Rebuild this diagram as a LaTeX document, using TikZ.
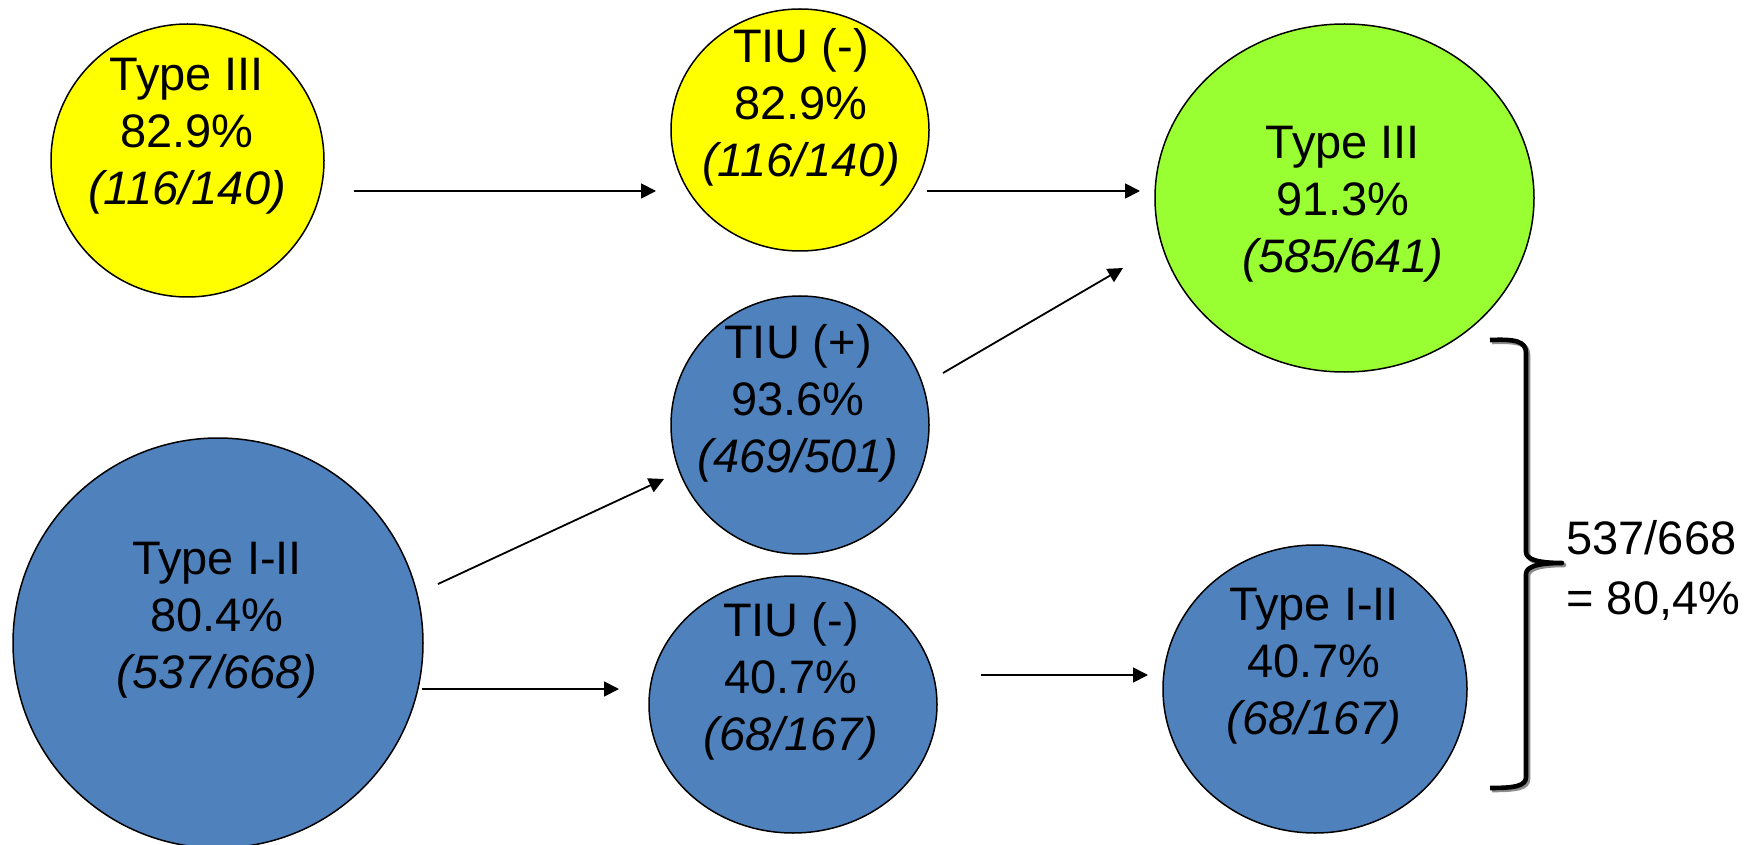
\documentclass[tikz,border=0pt]{standalone}
\usepackage{fontspec}
\setmainfont{Liberation Sans}
\usetikzlibrary{shapes.geometric,arrows.meta}
\definecolor{cyellow}{HTML}{FFFF00}
\definecolor{cgreen}{HTML}{99FF33}
\definecolor{cblue}{HTML}{4F81BD}
\definecolor{cshadow}{HTML}{8C8C8C}

\begin{document}
\begin{tikzpicture}[x=0.5pt,y=-0.5pt,
  bubble/.style={ellipse,draw=black,line width=0.75pt,inner sep=0pt},
  txt/.style={align=center,inner sep=0pt,font=\fontsize{23.5}{28.5}\selectfont},
  arr/.style={line width=0.9pt,-{Triangle[length=7.5pt,width=7.5pt]}},
  bracepath/.style={line width=2.3pt,line cap=butt,line join=round}]

\useasboundingbox (0,0) rectangle (1746,845);

% circles
\node[bubble,fill=cyellow,minimum width=136.5pt,minimum height=136.5pt] (A) at (187.5,160.5) {};
\node[bubble,fill=cyellow,minimum width=129pt,minimum height=121pt] (B) at (800,130) {};
\node[bubble,fill=cgreen,minimum width=189.5pt,minimum height=174pt] (C) at (1344.5,198) {};
\node[bubble,fill=cblue,minimum width=129pt,minimum height=129pt] (D) at (800,425) {};
\node[bubble,fill=cblue,minimum width=205pt,minimum height=205pt] (E) at (218,643) {};
\node[bubble,fill=cblue,minimum width=144pt,minimum height=128.5pt] (F) at (793,704.5) {};
\node[bubble,fill=cblue,minimum width=152pt,minimum height=144pt] (G) at (1315,689) {};

% labels
\node[txt] (tA) at (187,136.5) {Type III\\82.9\%\\\textit{(116/140)}};
\node[txt] (tB) at (801,107.5) {TIU (-)\\82.9\%\\\textit{(116/140)}};
\node[txt] (tC) at (1343,204.5) {Type III\\91.3\%\\\textit{(585/641)}};
\node[txt] (tD) at (798,403.5) {TIU (+)\\93.6\%\\\textit{(469/501)}};
\node[txt] (tE) at (217,620.5) {Type I-II\\80.4\%\\\textit{(537/668)}};
\node[txt] (tF) at (791,681.5) {TIU (-)\\40.7\%\\\textit{(68/167)}};
\node[txt] (tG) at (1314,666.5) {Type I-II\\40.7\%\\\textit{(68/167)}};

% arrow end points
\coordinate (ab1) at (354,191);  \coordinate (ab2) at (656,191);
\coordinate (bc1) at (927,191);  \coordinate (bc2) at (1140,191);
\coordinate (dc1) at (943,373);  \coordinate (dc2) at (1123,268);
\coordinate (ed1) at (438,584);  \coordinate (ed2) at (664,479);
\coordinate (ef1) at (422,689);  \coordinate (ef2) at (619,689);
\coordinate (fg1) at (981,675);  \coordinate (fg2) at (1148,675);

\draw[arr] (ab1) -- (ab2);
\draw[arr] (bc1) -- (bc2);
\draw[arr] (dc1) -- (dc2);
\draw[arr] (ed1) -- (ed2);
\draw[arr] (ef1) -- (ef2);
\draw[arr] (fg1) -- (fg2);

% brace with its shadow
\foreach \dx/\dy/\col in {2/2/cshadow,0/0/black}{
  \draw[bracepath,draw=\col,shift={(\dx*0.5pt,-\dy*0.5pt)}]
    (1490,340) .. controls (1515,339) and (1526,341) .. (1526,353)
    -- (1526,552) .. controls (1526,560) and (1540,563) .. (1562,563)
    .. controls (1540,563) and (1526,566) .. (1526,574)
    -- (1526,777) .. controls (1526,786) and (1515,788) .. (1490,788);
}
\node[anchor=west,align=left,inner sep=0pt,font=\fontsize{23.5}{30}\selectfont] (sum) at (1566,570) {537/668\\= 80,4\%};

\end{tikzpicture}
\end{document}
